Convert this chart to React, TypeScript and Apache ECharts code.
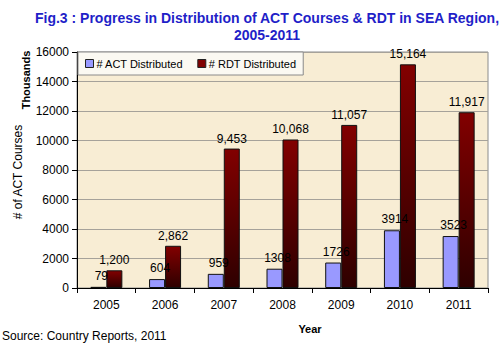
import React, { useEffect, useRef } from "react";
import * as echarts from "echarts";

const years = ["2005", "2006", "2007", "2008", "2009", "2010", "2011"];
const actDistributed = [79, 604, 959, 1308, 1726, 3914, 3523];
const rdtDistributed = [1200, 2862, 9453, 10068, 11057, 15164, 11917];
const yTicks = { min: 0, max: 16000, interval: 2000 };

export default function App() {
  const ref = useRef<HTMLDivElement>(null);
  useEffect(() => {
    const chart = echarts.init(ref.current!, null, { renderer: "svg" });
    const font = "Arial, 'Liberation Sans', sans-serif";
    chart.setOption({
      animation: false,
      backgroundColor: "#ffffff",
      textStyle: { fontFamily: font },
      title: {
        text: "Fig.3 : Progress in Distribution of ACT Courses & RDT in SEA Region,\n2005-2011",
        left: 262,
        top: 4,
        textAlign: "center",
        textStyle: { color: "#1f1fc8", fontSize: 14, fontWeight: "bold", lineHeight: 17, fontFamily: font },
      },
      legend: {
        left: 78,
        top: 52,
        itemWidth: 8,
        itemHeight: 8,
        itemGap: 14,
        padding: [6, 7, 6, 7],
        backgroundColor: "#fbf9f2",
        borderColor: "#8a8a8a",
        borderWidth: 1,
        icon: "rect",
        textStyle: { fontSize: 11, color: "#000", fontFamily: font, padding: [0, 0, 0, -2] },
        data: [
          { name: "# ACT Distributed", itemStyle: { color: "#9999ff", borderColor: "#222", borderWidth: 1 } },
          { name: "# RDT Distributed", itemStyle: { color: "#800000", borderColor: "#222", borderWidth: 1 } },
        ],
      },
      grid: {
        left: 77,
        right: 12,
        top: 52,
        bottom: 56,
        show: true,
        backgroundColor: "#f8edd4",
        borderColor: "#8c8c8c",
        borderWidth: 1,
      },
      xAxis: {
        type: "category",
        data: years,
        axisLine: { lineStyle: { color: "#000", width: 1 } },
        axisTick: { show: true, lineStyle: { color: "#000" }, length: 5 },
        axisLabel: { fontSize: 12, color: "#000", margin: 11, fontFamily: font },
      },
      yAxis: {
        type: "value",
        min: yTicks.min,
        max: yTicks.max,
        interval: yTicks.interval,
        axisLine: { show: true, lineStyle: { color: "#000" } },
        axisTick: { show: true, lineStyle: { color: "#000" }, length: 5 },
        axisLabel: { fontSize: 12, color: "#000", margin: 8, fontFamily: font, formatter: (v: number) => String(v) },
        splitLine: { lineStyle: { color: "#a6a29a", width: 1 } },
      },
      series: [
        {
          name: "# ACT Distributed",
          type: "bar",
          data: actDistributed,
          barWidth: 16,
          barGap: "0%",
          itemStyle: { color: "#9999ff", borderColor: "#111", borderWidth: 1 },
          label: {
            show: true,
            position: "top",
            distance: 5,
            offset: [3, 0],
            fontSize: 12,
            color: "#000",
            fontFamily: font,
          },
        },
        {
          name: "# RDT Distributed",
          type: "bar",
          data: rdtDistributed,
          barWidth: 16,
          barGap: "0%",
          itemStyle: {
            color: new echarts.graphic.LinearGradient(0, 0, 0, 1, [
              { offset: 0, color: "#820000" },
              { offset: 1, color: "#2e0000" },
            ]),
            borderColor: "#111",
            borderWidth: 1,
          },
          label: {
            show: true,
            position: "top",
            distance: 4,
            fontSize: 12,
            color: "#000",
            fontFamily: font,
            formatter: (p: any) => Number(p.value).toLocaleString("en-US"),
          },
        },
      ],
      graphic: [
        {
          type: "text",
          x: 18,
          y: 172,
          rotation: Math.PI / 2,
          style: { text: "# of ACT Courses", fontSize: 12, fill: "#000", align: "center", verticalAlign: "middle", fontFamily: font },
        },
        {
          type: "text",
          x: 26,
          y: 80,
          rotation: Math.PI / 2,
          style: { text: "Thousands", fontSize: 11, fontWeight: "bold", fill: "#000", align: "center", verticalAlign: "middle", fontFamily: font },
        },
        {
          type: "text",
          x: 310,
          y: 329,
          style: { text: "Year", fontSize: 11, fontWeight: "bold", fill: "#000", align: "center", verticalAlign: "middle", fontFamily: font },
        },
        {
          type: "text",
          x: 2,
          y: 336,
          style: { text: "Source: Country Reports, 2011", fontSize: 12, fill: "#000", align: "left", verticalAlign: "middle", fontFamily: font },
        },
      ],
    });
    return () => chart.dispose();
  }, []);
  return <div ref={ref} style={{ position: "absolute", left: 0, top: 0, width: 500, height: 344 }} />;
}
